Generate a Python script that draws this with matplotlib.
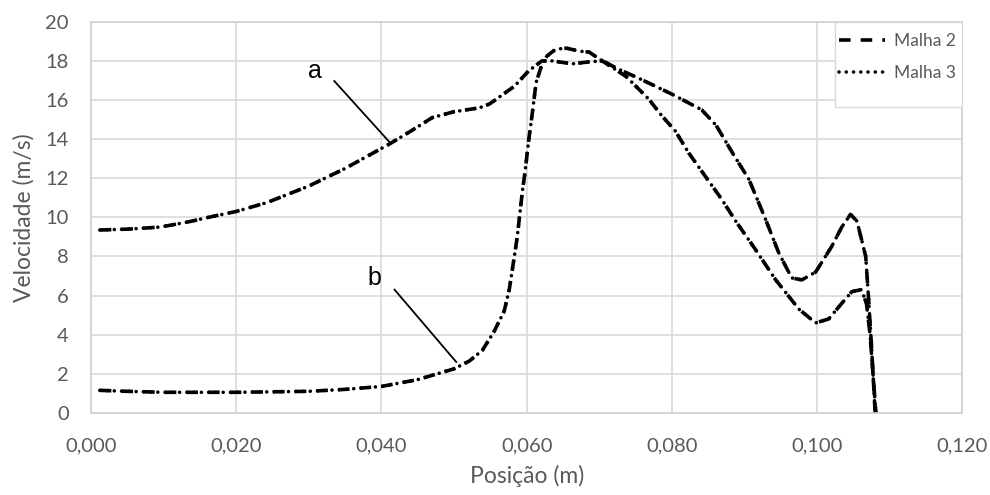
import matplotlib.pyplot as plt
from matplotlib.patches import Rectangle

plt.rcParams['font.family'] = ['Lato', 'DejaVu Sans']

# curve "a" (starts near 9.3 m/s)
xa = [0.0012, 0.0054, 0.0095, 0.0132, 0.0168, 0.0200, 0.0242, 0.0300, 0.0350,
      0.0411, 0.0440, 0.0470, 0.0500, 0.0535, 0.0549, 0.0583, 0.0603, 0.0621,
      0.0635, 0.0663, 0.0686, 0.0704, 0.0737, 0.0768, 0.0786, 0.0805, 0.0823,
      0.0847, 0.0869, 0.0888, 0.0915, 0.0943, 0.0975, 0.0998, 0.1016, 0.1034,
      0.1048, 0.1061, 0.1068, 0.1073, 0.1077, 0.1081]
ya = [9.35, 9.40, 9.50, 9.75, 10.05, 10.30, 10.75, 11.60, 12.50,
      13.75, 14.40, 15.10, 15.40, 15.60, 15.80, 16.70, 17.50, 18.00,
      18.00, 17.85, 17.95, 18.00, 17.20, 16.05, 15.20, 14.40, 13.30,
      12.05, 10.90, 9.80, 8.36, 6.80, 5.30, 4.60, 4.80, 5.60,
      6.20, 6.30, 5.60, 4.00, 2.00, 0.00]

# curve "b" (starts near 1.1 m/s)
xb = [0.0012, 0.0050, 0.0100, 0.0200, 0.0300, 0.0350, 0.0400, 0.0450, 0.0500,
      0.0521, 0.0539, 0.0555, 0.0569, 0.0576, 0.0583, 0.0587, 0.0594, 0.0598,
      0.0603, 0.0608, 0.0613, 0.0620, 0.0628, 0.0640, 0.0655, 0.0672, 0.0686,
      0.0700, 0.0725, 0.0755, 0.0800, 0.0841, 0.0861, 0.0885, 0.0906, 0.0929,
      0.0947, 0.0965, 0.0979, 0.0998, 0.1020, 0.1034, 0.1046, 0.1055, 0.1067,
      0.1071, 0.1075, 0.1080]
yb = [1.15, 1.10, 1.05, 1.05, 1.10, 1.20, 1.35, 1.70, 2.25,
      2.65, 3.20, 4.15, 5.20, 6.30, 8.00, 9.00, 11.30, 12.40,
      14.00, 15.40, 16.90, 17.70, 18.25, 18.60, 18.65, 18.50, 18.45,
      18.10, 17.60, 17.10, 16.30, 15.50, 14.70, 13.20, 11.95, 9.90,
      8.20, 6.90, 6.80, 7.20, 8.50, 9.50, 10.15, 9.80, 8.00,
      5.80, 3.40, 0.00]

xticks = [0.000, 0.020, 0.040, 0.060, 0.080, 0.100, 0.120]
yticks = [0, 2, 4, 6, 8, 10, 12, 14, 16, 18, 20]

fig = plt.figure(figsize=(9.9, 4.95), dpi=100)
ax = fig.add_axes([0.092, 0.166, 0.880, 0.790])

lw = 2.6
dash = dict(color='black', lw=lw, linestyle=(0, (3.2, 2.8)), dash_capstyle='butt')
dots = dict(color='black', lw=lw, linestyle=(0, (0.01, 2.0)), dash_capstyle='round')

# both meshes overlap almost exactly
ax.plot(xa, ya, label='Malha 2', **dash)
ax.plot(xa, ya, label='Malha 3', **dots)
ax.plot(xb, yb, **dash)
ax.plot(xb, yb, **dots)

ax.set_xlim(0, 0.12)
ax.set_ylim(0, 20)
ax.set_xticks(xticks)
ax.set_xticklabels([f'{v:.3f}'.replace('.', ',') for v in xticks])
ax.set_yticks(yticks)
ax.grid(color='#d9d9d9', lw=1.2)
ax.set_axisbelow(True)
for s in ax.spines.values():
    s.set_color('#d0d0d0')
    s.set_linewidth(1.2)
ax.tick_params(length=0, labelsize=14.5, labelcolor='#595959')
ax.tick_params(axis='x', pad=18)
ax.tick_params(axis='y', pad=16)

ax.set_xlabel('Posição (m)', fontsize=16.5, color='#595959', labelpad=7)
ax.set_ylabel('Velocidade (m/s)', fontsize=16.5, color='#595959', labelpad=8)

# curve labels with leader lines
ax.plot([0.0335, 0.0411], [16.97, 13.85], color='black', lw=1.3)
ax.text(0.0308, 17.5, 'a', fontsize=18, family='Liberation Sans', ha='center', va='center')
ax.plot([0.0418, 0.0503], [6.3, 2.6], color='black', lw=1.3)
ax.text(0.0390, 6.9, 'b', fontsize=18, family='Liberation Sans', ha='center', va='center')

# legend box, white so the grid does not show through
ax.add_patch(Rectangle((0.854, 0.783), 0.146, 0.217, transform=ax.transAxes,
                       facecolor='white', edgecolor='#d9d9d9', lw=1.0, zorder=4))
leg = ax.legend(loc='upper left', bbox_to_anchor=(0.858, 0.972), fontsize=12.5,
                frameon=False, handlelength=2.7, handletextpad=0.5,
                borderpad=0, labelspacing=0.95, borderaxespad=0)
leg.set_zorder(5)
for t in leg.get_texts():
    t.set_color('#595959')

fig.savefig('out.png', dpi=100)
